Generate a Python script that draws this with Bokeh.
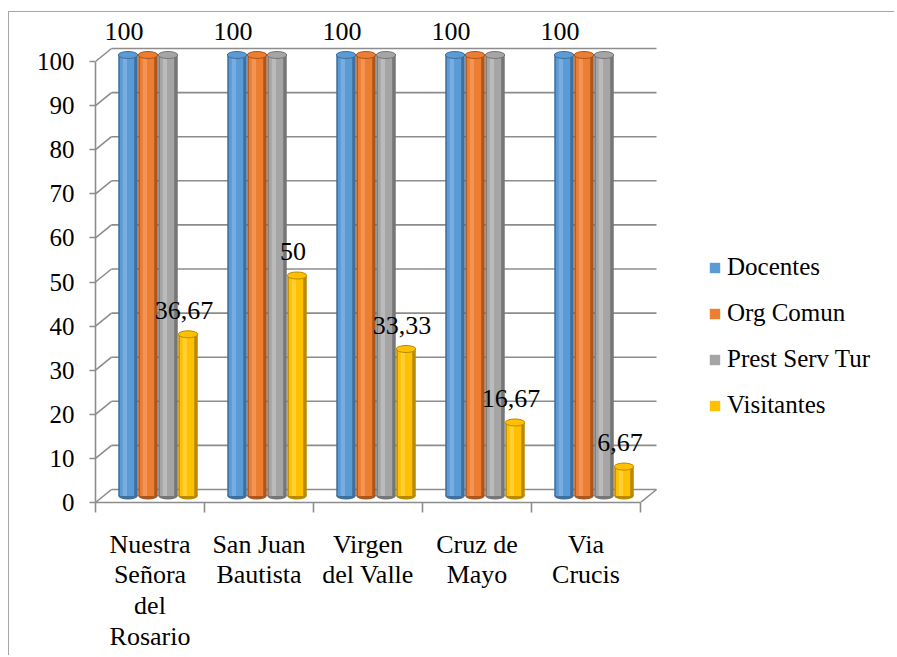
from bokeh.plotting import figure
from bokeh.models import ColumnDataSource, FixedTicker, Legend, LegendItem, Range1d
from bokeh.embed import file_html
from bokeh.resources import INLINE
from bokeh.core.properties import value

# ---------------- data ----------------
categories = ["Nuestra\nSeñora\ndel\nRosario", "San Juan\nBautista", "Virgen\ndel Valle",
              "Cruz de\nMayo", "Via\nCrucis"]
series_names = ["Docentes", "Org Comun", "Prest Serv Tur", "Visitantes"]
docentes = [100, 100, 100, 100, 100]
org_comun = [100, 100, 100, 100, 100]
prest_serv_tur = [100, 100, 100, 100, 100]
visitantes = [36.67, 50, 33.33, 16.67, 6.67]
y_ticks = [0, 10, 20, 30, 40, 50, 60, 70, 80, 90, 100]

series_values = [docentes, org_comun, prest_serv_tur, visitantes]
# (main, dark edge, highlight)
palette = [("#5B9BD5", "#3F6F9C", "#8FBCE8"),
           ("#ED7D31", "#A9561F", "#F6A872"),
           ("#A5A5A5", "#767676", "#CDCDCD"),
           ("#FFC000", "#B88A00", "#FFDA5E")]
labelled = [True, False, False, True]

# ---------------- geometry (pixels per data unit) ----------------
PX_X = 109.0
PX_Y = 4.41
DX = 16.0 / PX_X          # depth offset of back wall (x)
DY = 13.0 / PX_Y          # depth offset of back wall (y)
MDX, MDY = DX / 2, DY / 2  # bars stand at mid depth
BAR_W = 19.5 / PX_X
BAR_STEP = 20.0 / PX_X

W, H = 886, 644
ML, MB, MT, MR = 86, 154, 2, 0
frame_w = W - ML - MR
frame_h = H - MB - MT
n = len(categories)

p = figure(width=W, height=H, output_backend="svg", toolbar_location=None,
           x_range=Range1d(0, frame_w / PX_X), y_range=Range1d(0, frame_h / PX_Y),
           min_border_left=ML, min_border_bottom=MB, min_border_top=MT, min_border_right=MR)
p.styles = {"margin-top": "11px", "margin-left": "8px",
            "border-top": "1px solid #a6a6a6", "border-left": "1px solid #a6a6a6"}
p.outline_line_color = None
p.background_fill_color = "white"
p.border_fill_color = "white"
p.xgrid.visible = False
p.ygrid.visible = False

GRID = "#8c8c8c"
FONT = "Liberation Serif"

# back wall gridlines
p.segment(x0=[DX] * len(y_ticks), x1=[n + DX] * len(y_ticks),
          y0=[t + DY for t in y_ticks], y1=[t + DY for t in y_ticks],
          line_color=GRID, line_width=1.6)
# left wall diagonals
p.segment(x0=[0] * len(y_ticks), x1=[DX] * len(y_ticks),
          y0=y_ticks, y1=[t + DY for t in y_ticks],
          line_color=GRID, line_width=1.6)
# floor right edge
p.segment(x0=[n], x1=[n + DX], y0=[0], y1=[DY], line_color=GRID, line_width=1.6)

# ---------------- bars (cylinders) ----------------
main_renderers = []
for s, (vals, (c_main, c_dark, c_light)) in enumerate(zip(series_values, palette)):
    off = (s - 1.5) * BAR_STEP + MDX
    xs = [i + 0.5 + off for i in range(n)]
    tops = [v + MDY for v in vals]
    src = ColumnDataSource(dict(x=xs, top=tops, bottom=[MDY] * n, v=vals,
                                xh=[x - BAR_W * 0.16 for x in xs],
                                xm=[x - BAR_W * 0.05 for x in xs]))
    p.ellipse(x="x", y="bottom", width=BAR_W, height=7, height_units="screen",
              fill_color=c_dark, line_color=None, source=src)
    p.vbar(x="x", top="top", bottom="bottom", width=BAR_W, fill_color=c_dark,
           line_color=None, source=src)
    r = p.vbar(x="xm", top="top", bottom="bottom", width=BAR_W * 0.74, fill_color=c_main,
               line_color=None, source=src)
    p.vbar(x="xh", top="top", bottom="bottom", width=BAR_W * 0.22, fill_color=c_light,
           fill_alpha=0.55, line_color=None, source=src)
    p.ellipse(x="x", y="top", width=BAR_W, height=7, height_units="screen",
              fill_color=c_main, line_color=c_dark, line_width=1, source=src)
    main_renderers.append(r)
    if labelled[s]:
        lab = ColumnDataSource(dict(x=xs, y=tops,
                                    t=[f"{v:g}".replace(".", ",") for v in vals]))
        p.text(x="x", y="y", text="t", source=lab, x_offset=-4, y_offset=-24,
               text_align="center", text_baseline="middle",
               text_font=value(FONT), text_font_size="26px", text_color="black")

# ---------------- axes ----------------
ya = p.yaxis[0]
ya.ticker = FixedTicker(ticks=y_ticks)
ya.bounds = (0, 100)
ya.axis_line_color = GRID
ya.axis_line_width = 1.6
ya.major_tick_line_color = GRID
ya.major_tick_line_width = 1.6
ya.major_tick_out = 6
ya.major_tick_in = 0
ya.minor_tick_line_color = None
ya.major_label_standoff = 15
ya.major_label_text_font = FONT
ya.major_label_text_font_size = "25px"
ya.major_label_text_color = "black"

xa = p.xaxis[0]
xa.ticker = FixedTicker(ticks=[i + 0.5 for i in range(n)], minor_ticks=list(range(n + 1)))
xa.major_label_overrides = {i + 0.5: c for i, c in enumerate(categories)}
xa.bounds = (0, n)
xa.axis_line_color = GRID
xa.axis_line_width = 1.6
xa.major_tick_line_color = None
xa.major_tick_out = 0
xa.major_tick_in = 0
xa.minor_tick_line_color = GRID
xa.minor_tick_line_width = 1.6
xa.minor_tick_out = 10
xa.minor_tick_in = 0
xa.major_label_standoff = 17
xa.major_label_text_font = FONT
xa.major_label_text_font_size = "26px"
xa.major_label_text_color = "black"
xa.major_label_text_line_height = 1.06

# ---------------- legend ----------------
legend = Legend(items=[LegendItem(label=nm, renderers=[r]) for nm, r in zip(series_names, main_renderers)],
                location=(613, 83), orientation="vertical")
legend.glyph_width = 13
legend.glyph_height = 13
legend.label_standoff = 6
legend.spacing = 18
legend.padding = 0
legend.margin = 0
legend.background_fill_alpha = 0
legend.border_line_alpha = 0
legend.label_text_font = FONT
legend.label_text_font_size = "25px"
legend.label_text_color = "black"
p.add_layout(legend)

open("out.html", "w").write(file_html(p, INLINE))
